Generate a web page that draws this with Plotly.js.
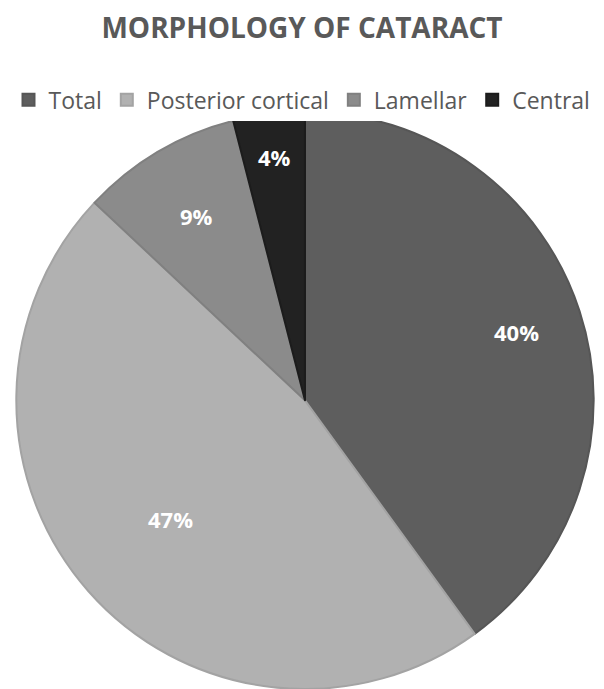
<!DOCTYPE html>
<html>
<head>
<meta charset="utf-8">
<script src="https://cdn.plot.ly/plotly-3.0.1.min.js"></script>
<style>
  html, body { margin: 0; padding: 0; background: #ffffff; }
  #chart { width: 604px; height: 689px; }
</style>
</head>
<body>
<div id="chart"></div>
<script>
// Cataract morphology shares (percent)
const categories = ['Total', 'Posterior cortical', 'Lamellar', 'Central'];
const shares = [40, 47, 9, 4];

// Slice styling
const sliceColors = ['#5e5e5e', '#b1b1b1', '#8b8b8b', '#222222'];
const edgeColors = ['#565656', '#a3a3a3', '#808080', '#1c1c1c'];
// How far out (fraction of radius) each percentage label sits along its slice's mid-angle
const labelRadius = [0.77, 0.62, 0.74, 0.85];

const W = 604, H = 689;
const domX = [0.0265, 0.9834];
const domY = [0, 0.838];

const trace = {
  type: 'pie',
  labels: categories,
  values: shares,
  sort: false,
  direction: 'clockwise',
  rotation: 0,
  marker: { colors: sliceColors, line: { color: edgeColors, width: 2 } },
  textinfo: 'none',
  hoverinfo: 'label+percent',
  domain: { x: domX, y: domY }
};

// Percentage labels placed on each slice's mid-angle
const total = shares.reduce((a, b) => a + b, 0);
const cx = (domX[0] + domX[1]) / 2 * W;
const cyFromBottom = (domY[0] + domY[1]) / 2 * H;
const radius = Math.min((domX[1] - domX[0]) * W, (domY[1] - domY[0]) * H) / 2;
let cum = 0;
const annotations = shares.map((v, i) => {
  const mid = (cum + v / 2) / total * 2 * Math.PI;
  cum += v;
  const r = radius * labelRadius[i];
  return {
    xref: 'paper', yref: 'paper',
    x: (cx + r * Math.sin(mid)) / W,
    y: (cyFromBottom + r * Math.cos(mid)) / H,
    xanchor: 'center', yanchor: 'middle',
    showarrow: false,
    text: Math.round(v / total * 100) + '%',
    font: { family: 'Open Sans, sans-serif', size: 22, color: '#ffffff', weight: 'bold' }
  };
});

const layout = {
  width: W,
  height: H,
  margin: { l: 0, r: 0, t: 0, b: 0 },
  paper_bgcolor: '#ffffff',
  title: {
    text: 'MORPHOLOGY OF CATARACT',
    x: 0.5, xanchor: 'center',
    y: 0.959, yanchor: 'middle',
    font: { family: 'Open Sans, sans-serif', size: 28, color: '#595959', weight: 'bold' }
  },
  showlegend: true,
  legend: {
    orientation: 'h',
    x: 0.5, xanchor: 'center',
    y: 0.855, yanchor: 'middle',
    font: { family: 'Open Sans, sans-serif', size: 23, color: '#595959' },
    traceorder: 'normal'
  },
  annotations: annotations
};

Plotly.newPlot('chart', [trace], layout, { displayModeBar: false, staticPlot: true });
</script>
</body>
</html>
